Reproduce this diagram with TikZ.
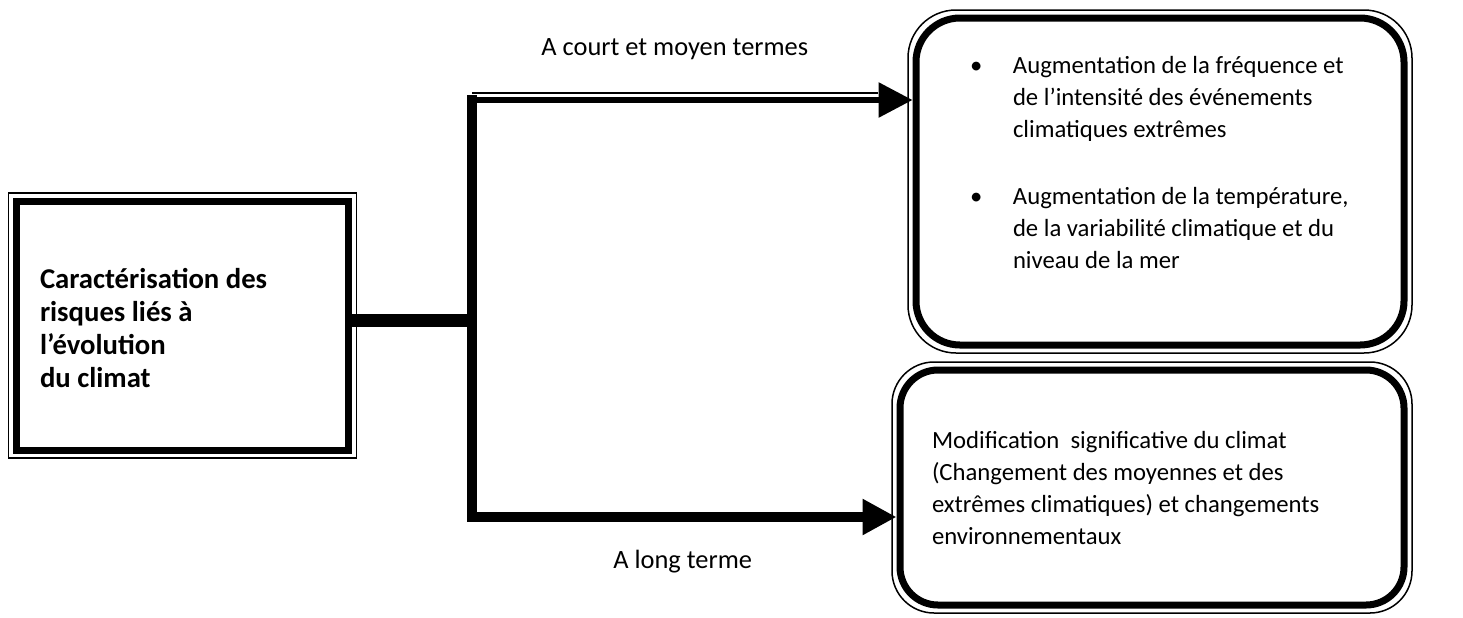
\documentclass[tikz,border=0pt]{standalone}
\usepackage{fontspec}
\setmainfont{Carlito}
\usetikzlibrary{arrows.meta,positioning}
\tikzset{
    riskbox/.style = {rectangle, draw=black, line width=3.5pt, inner sep=0pt, text=black},
    roundbox/.style = {riskbox, rounded corners=#1},
    hairline/.style = {draw=black, line width=0.75pt},
    trunk/.style = {line width=5pt, line cap=rect},
    branch/.style = {-{Triangle[length=17pt,width=17pt]}},
    lbl/.style = {inner sep=0pt, font=\fontsize{13.2}{16}\selectfont}
}

\begin{document}
\begin{tikzpicture}[x=0.5pt,y=-0.5pt]
    \useasboundingbox (0,0) rectangle (1463,617);

    \node[riskbox, minimum width=166pt, minimum height=124.5pt,
          font=\bfseries\fontsize{14.35}{16.5}\selectfont] (cause) at (182.5,325.5)
          {\parbox[c][57pt][t]{142.5pt}{Caractérisation des\\ risques liés à\\ l’évolution\\ du climat}};
    \node[roundbox=22pt, minimum width=244pt, minimum height=163.5pt,
          font=\fontsize{12.35}{16}\selectfont] (shortterm) at (1160,181.5)
          {\parbox[c][125pt][t]{190pt}{%
            \hangindent=21.5pt\hangafter=1\noindent\makebox[21.5pt][l]{\textbullet}\mbox{Augmentation de la fréquence et}\\
            \mbox{de l’intensité des événements}\\ \mbox{climatiques extrêmes}\par\vspace{17.5pt}
            \hangindent=21.5pt\hangafter=1\noindent\makebox[21.5pt][l]{\textbullet}\mbox{Augmentation de la température,}\\
            \mbox{de la variabilité climatique et du}\\ \mbox{niveau de la mer}}};
    \node[roundbox=19pt, minimum width=252pt, minimum height=117.5pt,
          font=\fontsize{12.35}{16}\selectfont] (longterm) at (1152,487.5)
          {\parbox[c][56pt][t]{220pt}{\mbox{Modification~ significative du climat}\\
            \mbox{(Changement des moyennes et des}\\ \mbox{extrêmes climatiques) et changements}\\ \mbox{environnementaux}}};

    % outer thin frames
    \foreach \frm/\rad in {cause/0pt, shortterm/24pt, longterm/21pt}
        \draw[hairline, rounded corners=\rad] ([shift={(-2.25pt,2.25pt)}]\frm.north west)
            rectangle ([shift={(2.25pt,-2.25pt)}]\frm.south east);

    \coordinate (forktop) at (472,100);
    \coordinate (forkbot) at (472,517);
    \coordinate (stem) at ([yshift=2.75pt]cause.east);

    \draw[trunk] (forktop) -- (forkbot);
    \draw[line width=6.5pt] (stem) -- (stem -| forktop);
    \draw[branch, line width=3pt] (forktop) -- (forktop -| shortterm.west);
    \draw[hairline, shorten >=17.5pt] ([yshift=3.5pt]forktop) -- ([yshift=3.5pt]forktop -| shortterm.west);
    \draw[branch, line width=5pt] (forkbot) -- (forkbot -| longterm.west);

    \node[lbl, anchor=base west] (shortlbl) at (541,55) {A court et moyen termes};
    \node[lbl, anchor=base west] (longlbl) at (613,568) {A long terme};
\end{tikzpicture}
\end{document}
